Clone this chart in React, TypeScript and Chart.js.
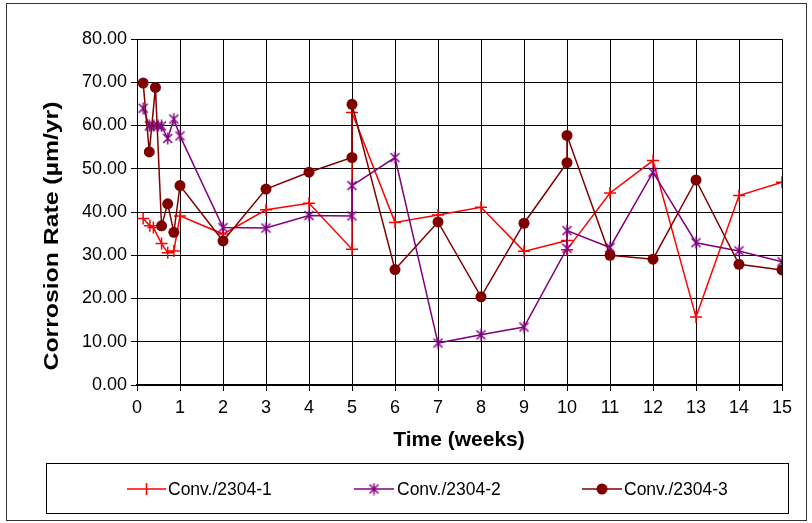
import React, { useEffect, useRef } from "react";
import { Chart, registerables } from "chart.js";
Chart.register(...registerables);

const SERIES_NAMES = ["Conv./2304-1", "Conv./2304-2", "Conv./2304-3"];

const WEEKS_1 = [0.143, 0.3, 0.38, 0.571, 0.714, 0.857, 1, 2, 3, 4, 5, 5, 6, 7, 8, 9, 10, 10, 11, 12, 13, 14, 15];
const RATE_1 = [38.5, 36.8, 36.4, 32.7, 30.6, 31.0, 39.1, 34.9, 40.5, 42.0, 31.4, 63.0, 37.6, 39.3, 41.1, 30.9, 33.4, 31.3, 44.4, 51.9, 15.7, 43.8, 46.9];

const WEEKS_2 = [0.143, 0.286, 0.39, 0.49, 0.571, 0.714, 0.857, 1, 2, 3, 4, 5, 5, 6, 7, 8, 9, 10, 10, 11, 12, 13, 14, 15];
const RATE_2 = [64.0, 59.9, 59.9, 59.9, 59.9, 57.0, 61.5, 57.6, 36.4, 36.3, 39.2, 39.1, 46.1, 52.6, 9.7, 11.6, 13.4, 31.6, 35.7, 31.8, 49.2, 32.9, 31.0, 28.5];

const WEEKS_3 = [0.143, 0.286, 0.429, 0.571, 0.714, 0.857, 1, 2, 3, 4, 5, 5, 6, 7, 8, 9, 10, 10, 11, 12, 13, 14, 15];
const RATE_3 = [69.8, 53.9, 68.8, 36.8, 41.9, 35.3, 46.1, 33.3, 45.3, 49.2, 52.6, 64.9, 26.7, 37.7, 20.4, 37.4, 51.4, 57.7, 30.0, 29.1, 47.4, 27.9, 26.6];

const X_MIN = 0, X_MAX = 15, X_STEP = 1;
const Y_MIN = 0, Y_MAX = 80, Y_STEP = 10;

const X_TITLE = "Time (weeks)";
const Y_TITLE = "Corrosion Rate (µm/yr)";

const COLORS = ["#FF0000", "#800080", "#800000"];
const FONT = "'Liberation Sans', Arial, sans-serif";

function toPoints(xs: number[], ys: number[]) {
  return xs.map((x, i) => ({ x, y: ys[i] }));
}

function makeStar(color: string) {
  const c = document.createElement("canvas");
  c.width = 13;
  c.height = 13;
  const g = c.getContext("2d")!;
  g.strokeStyle = color;
  g.lineWidth = 1.5;
  g.beginPath();
  g.moveTo(2, 2);
  g.lineTo(11, 11);
  g.moveTo(11, 2);
  g.lineTo(2, 11);
  g.moveTo(6.5, 0.5);
  g.lineTo(6.5, 12.5);
  g.stroke();
  return c;
}

export default function App() {
  const ref = useRef<HTMLCanvasElement | null>(null);

  useEffect(() => {
    if (!ref.current) return;
    const star = makeStar(COLORS[1]);

    const frame = {
      id: "frame",
      beforeDatasetsDraw(chart: any) {
        const { ctx, chartArea: a } = chart;
        ctx.save();
        ctx.strokeStyle = "#000";
        ctx.lineWidth = 1;
        ctx.beginPath();
        ctx.moveTo(Math.round(a.left) + 0.5, Math.round(a.top) + 0.5);
        ctx.lineTo(Math.round(a.right) + 0.5, Math.round(a.top) + 0.5);
        ctx.lineTo(Math.round(a.right) + 0.5, Math.round(a.bottom));
        ctx.stroke();
        ctx.restore();
      },
    };

    const extras = {
      id: "extras",
      afterDraw(chart: any) {
        const ctx = chart.ctx as CanvasRenderingContext2D;
        ctx.save();
        // outer border
        ctx.strokeStyle = "#333";
        ctx.lineWidth = 1;
        ctx.strokeRect(6.5, 3.5, 800, 517);

        // axis titles
        ctx.fillStyle = "#000";
        ctx.font = `bold 21px ${FONT}`;
        ctx.textAlign = "center";
        ctx.textBaseline = "middle";
        ctx.fillText(X_TITLE, 459, 440);
        ctx.save();
        ctx.translate(52, 236);
        ctx.rotate(-Math.PI / 2);
        ctx.scale(1.18, 1);
        ctx.fillText(Y_TITLE, 0, 0);
        ctx.restore();

        // legend box
        ctx.strokeStyle = "#000";
        ctx.lineWidth = 1;
        ctx.strokeRect(46.5, 463.5, 742, 50);

        const items = [
          { x0: 127, x1: 166, tx: 168 },
          { x0: 354, x1: 394, tx: 397 },
          { x0: 582, x1: 622, tx: 624 },
        ];
        const ly = 489;
        items.forEach((it, i) => {
          const col = COLORS[i];
          ctx.strokeStyle = col;
          ctx.lineWidth = 1.5;
          ctx.beginPath();
          ctx.moveTo(it.x0, ly);
          ctx.lineTo(it.x1, ly);
          ctx.stroke();
          const cx = (it.x0 + it.x1) / 2;
          if (i === 0) {
            ctx.beginPath();
            ctx.moveTo(cx, ly - 6);
            ctx.lineTo(cx, ly + 6);
            ctx.stroke();
          } else if (i === 1) {
            ctx.drawImage(star, cx - 6.5, ly - 6.5);
          } else {
            ctx.fillStyle = col;
            ctx.beginPath();
            ctx.arc(cx, ly, 5.5, 0, Math.PI * 2);
            ctx.fill();
          }
          ctx.fillStyle = "#000";
          ctx.font = `17.5px ${FONT}`;
          ctx.textAlign = "left";
          ctx.textBaseline = "middle";
          ctx.fillText(SERIES_NAMES[i], it.tx, ly + 1);
        });
        ctx.restore();
      },
    };

    const chart = new Chart(ref.current, {
      type: "scatter",
      data: {
        datasets: [
          {
            label: SERIES_NAMES[0],
            data: toPoints(WEEKS_1, RATE_1),
            showLine: true,
            borderColor: COLORS[0],
            backgroundColor: COLORS[0],
            borderWidth: 1.5,
            pointStyle: "cross",
            pointRadius: 6,
            pointBorderWidth: 1.5,
            pointBorderColor: COLORS[0],
            order: 2,
          },
          {
            label: SERIES_NAMES[1],
            data: toPoints(WEEKS_2, RATE_2),
            showLine: true,
            borderColor: COLORS[1],
            backgroundColor: COLORS[1],
            borderWidth: 1.5,
            pointStyle: star as any,
            pointRadius: 6,
            order: 1,
          },
          {
            label: SERIES_NAMES[2],
            data: toPoints(WEEKS_3, RATE_3),
            showLine: true,
            borderColor: COLORS[2],
            backgroundColor: COLORS[2],
            borderWidth: 1.5,
            pointStyle: "circle",
            pointRadius: 5.5,
            pointBorderWidth: 0,
            order: 0,
          },
        ],
      },
      options: {
        responsive: false,
        animation: false,
        devicePixelRatio: 1,
        layout: { padding: { top: 39, right: 30, left: 0, bottom: 0 } },
        plugins: {
          legend: { display: false },
          tooltip: { enabled: false },
        },
        scales: {
          x: {
            type: "linear",
            min: X_MIN,
            max: X_MAX,
            afterFit: (s: any) => {
              s.height = 523 - 385;
            },
            ticks: {
              stepSize: X_STEP,
              autoSkip: false,
              maxRotation: 0,
              color: "#000",
              padding: 6,
              font: { family: FONT, size: 18 },
              callback: (v: any) => String(v),
            },
            grid: { color: "#000", lineWidth: 1, tickLength: 6, drawTicks: true },
            border: { color: "#000", width: 2 },
          },
          y: {
            type: "linear",
            min: Y_MIN,
            max: Y_MAX,
            afterFit: (s: any) => {
              s.width = 137;
            },
            ticks: {
              stepSize: Y_STEP,
              color: "#000",
              padding: 4,
              font: { family: FONT, size: 18 },
              callback: (v: any) => Number(v).toFixed(2),
            },
            grid: { color: "#000", lineWidth: 1, tickLength: 6, drawTicks: true },
            border: { color: "#000", width: 1 },
          },
        },
      },
      plugins: [frame, extras],
    });
    return () => chart.destroy();
  }, []);

  return (
    <div style={{ position: "absolute", left: 0, top: 0, width: 812, height: 523, background: "#fff" }}>
      <canvas ref={ref} width={812} height={523} style={{ width: 812, height: 523, display: "block" }} />
    </div>
  );
}
